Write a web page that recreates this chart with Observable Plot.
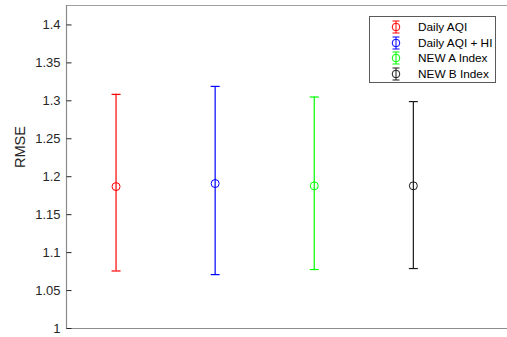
<!DOCTYPE html>
<html>
<head>
<meta charset="utf-8">
<script src="https://cdn.jsdelivr.net/npm/d3@7"></script>
<script src="https://cdn.jsdelivr.net/npm/@observablehq/plot@0.6"></script>
<style>
  html, body { margin: 0; padding: 0; background: #fff; }
  #wrap { position: relative; width: 507px; height: 337px; overflow: hidden; font-family: "Liberation Sans", Arial, sans-serif; }
  #legend { position: absolute; left: 369px; top: 16px; width: 127px; height: 67px; border: 1px solid #5a5a5a; background: #fff; box-sizing: border-box; }
  .item { position: absolute; left: 0; height: 16px; display: flex; align-items: center; font-size: 11.8px; color: #000; white-space: nowrap; }
  .item svg { margin-left: 20px; margin-right: 16px; }
</style>
</head>
<body>
<div id="wrap"></div>
<script>
const series = ["Daily AQI", "Daily AQI + HI", "NEW A Index", "NEW B Index"];
const positions = [1, 2, 3, 4];
const means = [1.187, 1.191, 1.188, 1.188];
const upper = [1.3085, 1.319, 1.305, 1.299];
const lower = [1.0758, 1.071, 1.0777, 1.079];
const colors = ["#ff0000", "#0000ff", "#00ff00", "#1a1a1a"];
const yTicks = [1, 1.05, 1.1, 1.15, 1.2, 1.25, 1.3, 1.35, 1.4];

const data = series.map((s, i) => ({name: s, x: positions[i], m: means[i], hi: upper[i], lo: lower[i], c: colors[i]}));

const hline = { draw(ctx, size) { const r = Math.sqrt(size / Math.PI); ctx.moveTo(-r, 0); ctx.lineTo(r, 0); } };

const xDomain = [0.5, 4.95];
const yDomain = [1, 1.4256];

const chart = Plot.plot({
  width: 507,
  height: 337,
  marginLeft: 66,
  marginRight: 0,
  marginTop: 5,
  marginBottom: 9,
  style: { fontFamily: "Liberation Sans, Arial, sans-serif", fontSize: "13px", color: "#262626", background: "#fff" },
  x: { domain: xDomain, axis: null },
  y: { domain: yDomain, ticks: yTicks, tickFormat: d => String(+d.toFixed(2)), label: null },
  marks: [
    Plot.ruleY([yDomain[0]], { stroke: "#8c8c8c", strokeWidth: 1.2 }),
    Plot.ruleY([yDomain[1]], { stroke: "#a0a0a0", strokeWidth: 1.2 }),
    Plot.ruleX([xDomain[0]], { stroke: "#8c8c8c", strokeWidth: 1.2 }),
    Plot.axisY({ ticks: yTicks, tickSize: 0, tickPadding: 6, tickFormat: d => String(+d.toFixed(2)), label: null, fontSize: 13, fill: "#262626" }),
    Plot.dot(yTicks, { x: xDomain[0], y: d => d, symbol: hline, r: 2.5, dx: 2.5, stroke: "#262626", strokeWidth: 1 }),
    Plot.ruleX(data, { x: "x", y1: "lo", y2: "hi", stroke: "c", strokeWidth: 1.2 }),
    Plot.dot(data, { x: "x", y: "hi", symbol: hline, r: 4.5, stroke: "c", strokeWidth: 1.2 }),
    Plot.dot(data, { x: "x", y: "lo", symbol: hline, r: 4.5, stroke: "c", strokeWidth: 1.2 }),
    Plot.dot(data, { x: "x", y: "m", r: 4, stroke: "c", fill: "none", strokeWidth: 1 }),
    Plot.text(["RMSE"], { frameAnchor: "left", dx: -46, rotate: -90, fontSize: 14.5, fill: "#262626", dy: 1 })
  ]
});

const wrap = document.getElementById("wrap");
wrap.appendChild(chart);

const legend = document.createElement("div");
legend.id = "legend";
const tops = [2, 17.5, 33, 48.5];
data.forEach((d, i) => {
  const it = document.createElement("div");
  it.className = "item";
  it.style.top = tops[i] + "px";
  it.innerHTML = `<svg width="12" height="14" viewBox="0 0 12 14"><line x1="6" y1="1" x2="6" y2="13" stroke="${d.c}" stroke-width="1"/><line x1="2.5" y1="1" x2="9.5" y2="1" stroke="${d.c}" stroke-width="1"/><line x1="2.5" y1="13" x2="9.5" y2="13" stroke="${d.c}" stroke-width="1"/><circle cx="6" cy="7" r="3.8" fill="none" stroke="${d.c}" stroke-width="1"/></svg><span>${d.name}</span>`;
  legend.appendChild(it);
});
wrap.appendChild(legend);
</script>
</body>
</html>
